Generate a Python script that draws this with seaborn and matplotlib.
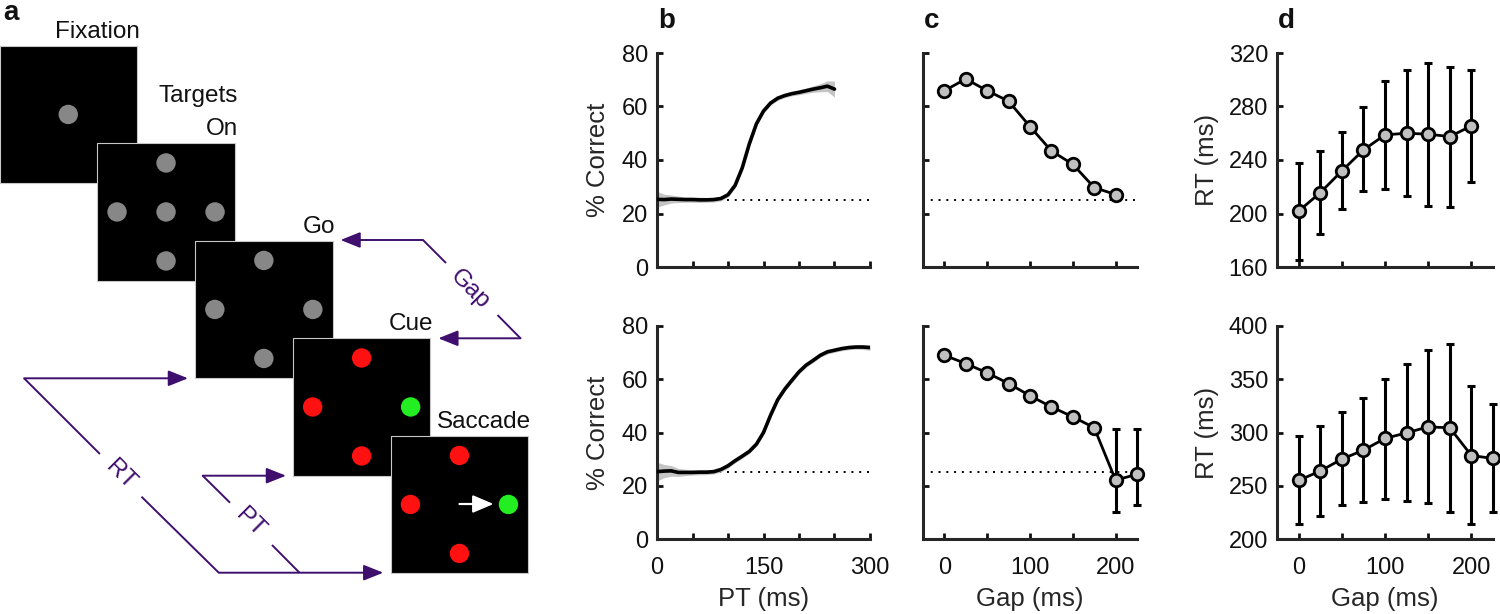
import matplotlib
matplotlib.use('Agg')
import matplotlib.pyplot as plt
import matplotlib.patches as patches
import seaborn as sns

# ---- data ----
# b: % correct as a function of processing time (PT)
pt_top = [0, 10, 20, 30, 40, 50, 60, 70, 80, 90, 100, 110, 120, 130, 140, 150, 160, 170, 180,
          190, 200, 210, 220, 230, 240, 250]
pc_top = [25.3, 25.2, 25.4, 25.3, 25.2, 25.2, 25.1, 25.1, 25.2, 25.6, 27.0, 30.5, 37.0, 46.0,
          53.5, 58.3, 61.3, 63.1, 64.1, 64.8, 65.3, 65.9, 66.5, 67.0, 67.6, 66.5]
sem_top = [3.0, 2.0, 1.5, 1.2, 1.0, 1.0, 1.0, 0.9, 0.9, 0.9, 0.8, 0.8, 0.8, 0.8, 0.8, 0.8, 0.8,
           0.8, 0.8, 0.8, 0.9, 1.0, 1.2, 1.5, 2.0, 3.0]

pt_bot = [0, 10, 20, 30, 40, 50, 60, 70, 80, 90, 100, 110, 120, 130, 140, 150, 160, 170, 180,
          190, 200, 210, 220, 230, 240, 250, 260, 270, 280, 290, 300]
pc_bot = [25.3, 25.5, 25.6, 25.0, 25.0, 25.0, 25.1, 25.1, 25.3, 26.1, 27.5, 29.4, 31.1, 32.9,
          35.6, 40.0, 46.5, 52.3, 56.3, 59.6, 62.8, 65.3, 67.1, 69.0, 70.3, 70.9, 71.5, 71.9,
          72.1, 72.1, 71.9]
sem_bot = [3.5, 2.5, 2.0, 1.5, 1.2, 1.0, 1.0, 0.9, 0.9, 0.9, 0.9, 0.8, 0.8, 0.8, 0.8, 0.8, 0.8,
           0.8, 0.8, 0.8, 0.8, 0.8, 0.8, 0.8, 0.8, 0.8, 0.8, 0.8, 0.8, 0.9, 1.0]

# c: % correct vs gap
gap_top = [0, 25, 50, 75, 100, 125, 150, 175, 200]
acc_top = [65.9, 70.3, 65.9, 62.0, 52.5, 43.4, 38.4, 29.7, 27.1]
acc_top_lo = [64.9, 69.3, 64.9, 61.0, 51.5, 42.4, 37.4, 28.7, 26.1]
acc_top_hi = [66.9, 71.3, 66.9, 63.0, 53.5, 44.4, 39.4, 30.7, 28.1]

gap_bot = [0, 25, 50, 75, 100, 125, 150, 175, 200, 225]
acc_bot = [69.0, 65.9, 62.4, 58.4, 53.8, 49.6, 45.9, 41.8, 22.1, 24.3]
acc_bot_lo = [68.0, 64.9, 61.4, 57.4, 52.8, 48.6, 44.9, 40.8, 10.3, 12.8]
acc_bot_hi = [70.0, 66.9, 63.4, 59.4, 54.8, 50.6, 46.9, 42.8, 41.3, 41.3]

chance = 25

# d: reaction time vs gap
rt_top = [201.8, 215.5, 231.8, 247.5, 258.8, 260.0, 259.3, 257.5, 265.5]
rt_top_lo = [165.5, 184.3, 203.0, 216.8, 218.0, 213.3, 205.8, 205.0, 223.5]
rt_top_hi = [237.5, 247.0, 261.3, 279.3, 299.3, 307.0, 312.5, 309.5, 307.5]

rt_bot = [255.0, 263.8, 275.0, 283.4, 294.4, 299.7, 305.3, 304.4, 278.4, 275.6]
rt_bot_lo = [213.7, 221.9, 231.9, 235.0, 237.2, 235.6, 233.4, 225.6, 213.7, 225.0]
rt_bot_hi = [296.6, 306.0, 319.4, 332.8, 350.6, 364.7, 377.8, 383.4, 344.0, 326.6]

# a: task schematic (frame labels and dot layout, offsets in units of dot spacing)
frame_labels = ['Fixation', 'Targets\nOn', 'Go', 'Cue', 'Saccade']
frame_dots = [
    [(0, 0, 'gray')],
    [(0, -1, 'gray'), (-1, 0, 'gray'), (0, 0, 'gray'), (1, 0, 'gray'), (0, 1, 'gray')],
    [(0, -1, 'gray'), (-1, 0, 'gray'), (1, 0, 'gray'), (0, 1, 'gray')],
    [(0, -1, 'red'), (-1, 0, 'red'), (1, 0, 'green'), (0, 1, 'red')],
    [(0, -1, 'red'), (-1, 0, 'red'), (1, 0, 'green'), (0, 1, 'red')],
]
dot_colors = {'gray': '#878787', 'red': '#ff1111', 'green': '#22ee22'}

PURPLE = '#3f0f6e'
MARKER_GRAY = '#c0c0c0'
FS_TICK = 17
FS_LABEL = 18.5

sns.set_style('ticks')
plt.rcParams['font.family'] = ['Liberation Sans', 'DejaVu Sans']

fig = plt.figure(figsize=(15, 6.14), dpi=100)


# ---------------- panel a ----------------
ax_a = fig.add_axes([0, 0, 560 / 1500, 1])
ax_a.set_xlim(0, 560)
ax_a.set_ylim(614, 0)
ax_a.axis('off')

size = 137.5
step_x, step_y = 97.8, 97.5
spacing = 49
for i, (label, dots) in enumerate(zip(frame_labels, frame_dots)):
    left = -0.5 + step_x * i
    top = 45.7 + step_y * i
    ax_a.add_patch(patches.Rectangle((left, top), size, size, facecolor='black',
                                     edgecolor='#c8c8c8', lw=0.8, zorder=2 + i))
    cx, cy = left + size / 2, top + size / 2
    for dx, dy, c in dots:
        ax_a.add_patch(patches.Circle((cx + dx * spacing, cy + dy * spacing), 9.7,
                                      facecolor=dot_colors[c], edgecolor='none', zorder=2.5 + i))
    lines = label.split('\n')
    for k, line in enumerate(reversed(lines)):
        ax_a.text(left + size + 3, top - 8 - 33 * k, line, ha='right', va='baseline',
                  fontsize=17.5, color='#111111')

# saccade arrow
ax_a.annotate('', xy=(493.5, 504), xytext=(459.5, 504),
              arrowprops=dict(arrowstyle='-|>,head_length=0.7,head_width=0.3', color='white',
                              lw=1.6, mutation_scale=18, shrinkA=0, shrinkB=0), zorder=10)


def purple_path(xs, ys):
    ax_a.plot(xs, ys, color=PURPLE, lw=1.4, solid_capstyle='butt')


def purple_arrow(tip, tail):
    ax_a.annotate('', xy=tip, xytext=tail,
                  arrowprops=dict(arrowstyle='-|>,head_length=0.6,head_width=0.24', color=PURPLE,
                                  lw=1.4, mutation_scale=20, shrinkA=0, shrinkB=0))


# Gap
purple_arrow((340.5, 240), (423, 240))
purple_path([423, 446], [240, 263])
purple_path([497.5, 520.5], [315, 338.3])
purple_arrow((438.3, 338.3), (520.5, 338.3))
ax_a.text(470, 289, 'Gap', rotation=-45, rotation_mode='anchor', ha='center', va='center',
          fontsize=17.5, color=PURPLE)
# RT
purple_arrow((188, 378.3), (24.1, 378.3))
purple_path([24.1, 99.9], [378.3, 454])
purple_path([141.5, 218.8], [496.7, 572.7])
purple_arrow((383.3, 572.7), (218.8, 572.7))
ax_a.text(120.5, 475, 'RT', rotation=-45, rotation_mode='anchor', ha='center', va='center',
          fontsize=17.5, color=PURPLE)
# PT
purple_arrow((286, 475.7), (202.7, 475.7))
purple_path([202.7, 230], [475.7, 502.7])
purple_path([272, 299.5], [545, 572.7])
ax_a.text(250, 522.7, 'PT', rotation=-45, rotation_mode='anchor', ha='center', va='center',
          fontsize=17.5, color=PURPLE)


# ---------------- panels b-d ----------------
def px_axes(x0, x1, y0, y1):
    return fig.add_axes([x0 / 1500, 1 - y1 / 614, (x1 - x0) / 1500, (y1 - y0) / 614])


def style(ax):
    sns.despine(ax=ax)
    for s in ['left', 'bottom']:
        ax.spines[s].set_linewidth(2.2)
    ax.tick_params(direction='in', length=4, width=2, labelsize=FS_TICK, colors='#111111')
    ax.tick_params(axis='x', pad=13)
    ax.tick_params(axis='y', pad=6.5)
    ax.set_facecolor('white')


def points(ax, x, y, lo, hi):
    yerr = [[m - l for m, l in zip(y, lo)], [h - m for m, h in zip(y, hi)]]
    ax.errorbar(x, y, yerr=yerr, fmt='none', ecolor='black', elinewidth=2.2, capsize=2.8,
                capthick=2.2, zorder=2, clip_on=False)
    sns.lineplot(x=x, y=y, ax=ax, color='black', lw=2, marker='o', markersize=9,
                 markerfacecolor=MARKER_GRAY, markeredgecolor='black', markeredgewidth=2,
                 zorder=3, clip_on=False)


rows = [(53, 267), (326, 539)]
b_data = [(pt_top, pc_top, sem_top), (pt_bot, pc_bot, sem_bot)]
c_data = [(gap_top, acc_top, acc_top_lo, acc_top_hi), (gap_bot, acc_bot, acc_bot_lo, acc_bot_hi)]
d_data = [(gap_top, rt_top, rt_top_lo, rt_top_hi), (gap_bot, rt_bot, rt_bot_lo, rt_bot_hi)]
d_ylims = [(160, 320, [160, 200, 240, 280, 320]), (200, 400, [200, 250, 300, 350, 400])]

for r, (y0, y1) in enumerate(rows):
    bottom_row = r == 1

    # b
    ax = px_axes(657, 870, y0, y1)
    t, m, s = b_data[r]
    ax.axhline(chance, color='black', lw=1.4, dashes=(1, 3), zorder=1)
    ax.fill_between(t, [a - e for a, e in zip(m, s)], [a + e for a, e in zip(m, s)],
                    color='#c4c4c4', lw=0, zorder=2)
    sns.lineplot(x=t, y=m, ax=ax, color='black', lw=2.6, zorder=3,
                 solid_joinstyle='round')
    ax.set_xlim(0, 300)
    ax.set_ylim(0, 80)
    ax.set_yticks([0, 20, 40, 60, 80])
    ax.set_xticks([0, 50, 100, 150, 200, 250, 300])
    ax.set_xticklabels(['0', '', '', '150', '', '', '300'] if bottom_row else [''] * 7)
    ax.set_ylabel('% Correct', fontsize=FS_LABEL, labelpad=8)
    ax.set_xlabel('PT (ms)' if bottom_row else '', fontsize=FS_LABEL, labelpad=6)
    style(ax)

    # c
    ax = px_axes(923, 1137, y0, y1)
    ax.axhline(chance, color='black', lw=1.4, dashes=(1, 3), zorder=1)
    points(ax, *c_data[r])
    ax.set_xlim(-25, 225)
    ax.set_ylim(0, 80)
    ax.set_yticks([0, 20, 40, 60, 80])
    ax.set_yticklabels([''] * 5)
    ax.set_xticks([0, 50, 100, 150, 200])
    ax.set_xticklabels(['0', '', '100', '', '200'] if bottom_row else [''] * 5)
    ax.set_xlabel('Gap (ms)' if bottom_row else '', fontsize=FS_LABEL, labelpad=6)
    ax.set_ylabel('')
    style(ax)

    # d
    ax = px_axes(1277, 1493, y0, y1)
    points(ax, *d_data[r])
    lo, hi, ticks = d_ylims[r]
    ax.set_xlim(-25, 225)
    ax.set_ylim(lo, hi)
    ax.set_yticks(ticks)
    ax.set_xticks([0, 50, 100, 150, 200])
    ax.set_xticklabels(['0', '', '100', '', '200'] if bottom_row else [''] * 5)
    ax.set_xlabel('Gap (ms)' if bottom_row else '', fontsize=FS_LABEL, labelpad=6)
    ax.set_ylabel('RT (ms)', fontsize=FS_LABEL, labelpad=7)
    style(ax)

# panel letters
for letter, x, y in [('a', 3, 20), ('b', 658, 28), ('c', 924, 28), ('d', 1278, 28)]:
    fig.text(x / 1500, 1 - y / 614, letter, fontsize=20, fontweight='bold', ha='left',
             va='baseline', color='#111111')

fig.savefig('out.png', dpi=100, facecolor='white')
